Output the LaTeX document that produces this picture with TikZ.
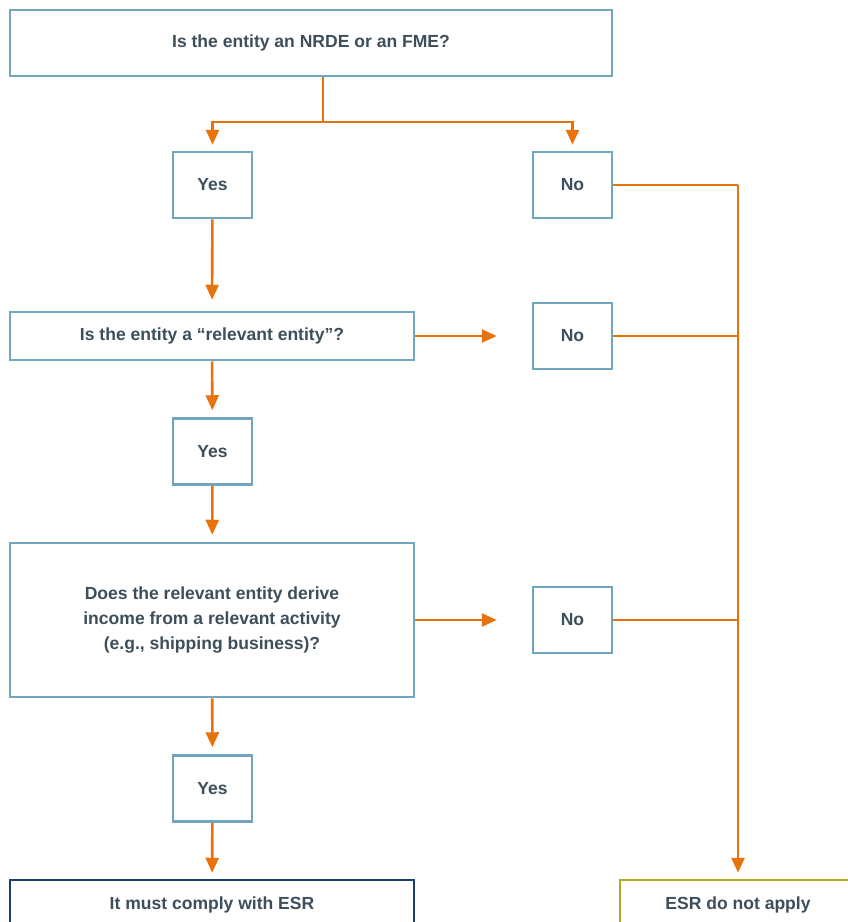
\documentclass[tikz,border=0pt]{standalone}
\usepackage{fontspec}
\setmainfont{Liberation Sans}
\usetikzlibrary{arrows.meta}
\definecolor{boxblue}{HTML}{72A6BC}
\definecolor{flow}{HTML}{E8730C}
\definecolor{navy}{HTML}{1D3F6E}
\definecolor{olive}{HTML}{A8AE2C}
\definecolor{ink}{HTML}{3D4F5A}
\tikzset{
  box/.style={draw=boxblue, line width=2.5bp, fill=white, text=ink, inner sep=0pt,
    font=\bfseries\fontsize{17.6}{25}\selectfont, align=center},
  answer/.style={box, minimum width=79bp, minimum height=66bp},
  flowline/.style={draw=flow, line width=2.6bp},
  flowarrow/.style={flowline, -{Triangle[length=15bp,width=13bp]}},
}
\begin{document}
\begin{tikzpicture}[x=1bp,y=-1bp]
\useasboundingbox (0,0) rectangle (848,922);
\clip (0,0) rectangle (848,922);
% questions
\node[box, minimum width=602bp, minimum height=66bp] (nrde) at (311,43) {Is the entity an NRDE or an FME?};
\node[box, minimum width=404bp, minimum height=48bp] (relevant) at (212,336) {Is the entity a “relevant entity”?};
\node[box, minimum width=404bp, minimum height=154bp] (income) at (212,620) {Does the relevant entity derive\\income from a relevant activity\\(e.g., shipping business)?};
% answers
\node[answer] (yesA) at (212.5,185) {Yes};
\node[answer] (noA) at (572.5,185) {No};
\node[answer] (noB) at (572.5,336) {No};
\node[answer] (yesB) at (212.5,451.5) {Yes};
\node[answer] (noC) at (572.5,620) {No};
\node[answer] (yesC) at (212.5,788.5) {Yes};
% outcomes
\node[box, draw=navy, minimum width=404bp, minimum height=50bp] (comply) at (212,905) {It must comply with ESR};
\node[box, draw=olive, minimum width=236bp, minimum height=50bp] (noapply) at (738,905) {ESR do not apply};
% first split
\coordinate (split) at (323,122);
\draw[flowline] (split |- nrde.south) -- (split);
\draw[flowarrow, shorten >=6bp] (split) -| (yesA.north);
\draw[flowarrow, shorten >=6bp] (split) -| (noA.north);
% yes path
\draw[flowarrow, shorten >=11bp] (yesA) -- (relevant);
\draw[flowarrow, shorten >=7bp] (relevant) -- (yesB);
\draw[flowarrow, shorten >=7bp] (yesB) -- (income);
\draw[flowarrow, shorten >=7bp] (income) -- (yesC);
\draw[flowarrow, shorten >=6bp] (yesC) -- (comply);
% no path
\draw[flowarrow, shorten >=35bp] (relevant.east) -- (noB.west);
\draw[flowarrow, shorten >=35bp] (income.east) -- (noC.west);
\coordinate (rail) at (738,185);
\draw[flowline] (noA.east) -- (rail);
\draw[flowline] (noB.east) -- (noB.east -| rail);
\draw[flowline] (noC.east) -- (noC.east -| rail);
\draw[flowarrow, shorten >=6bp] (rail) -- (noapply.north);
\end{tikzpicture}
\end{document}
